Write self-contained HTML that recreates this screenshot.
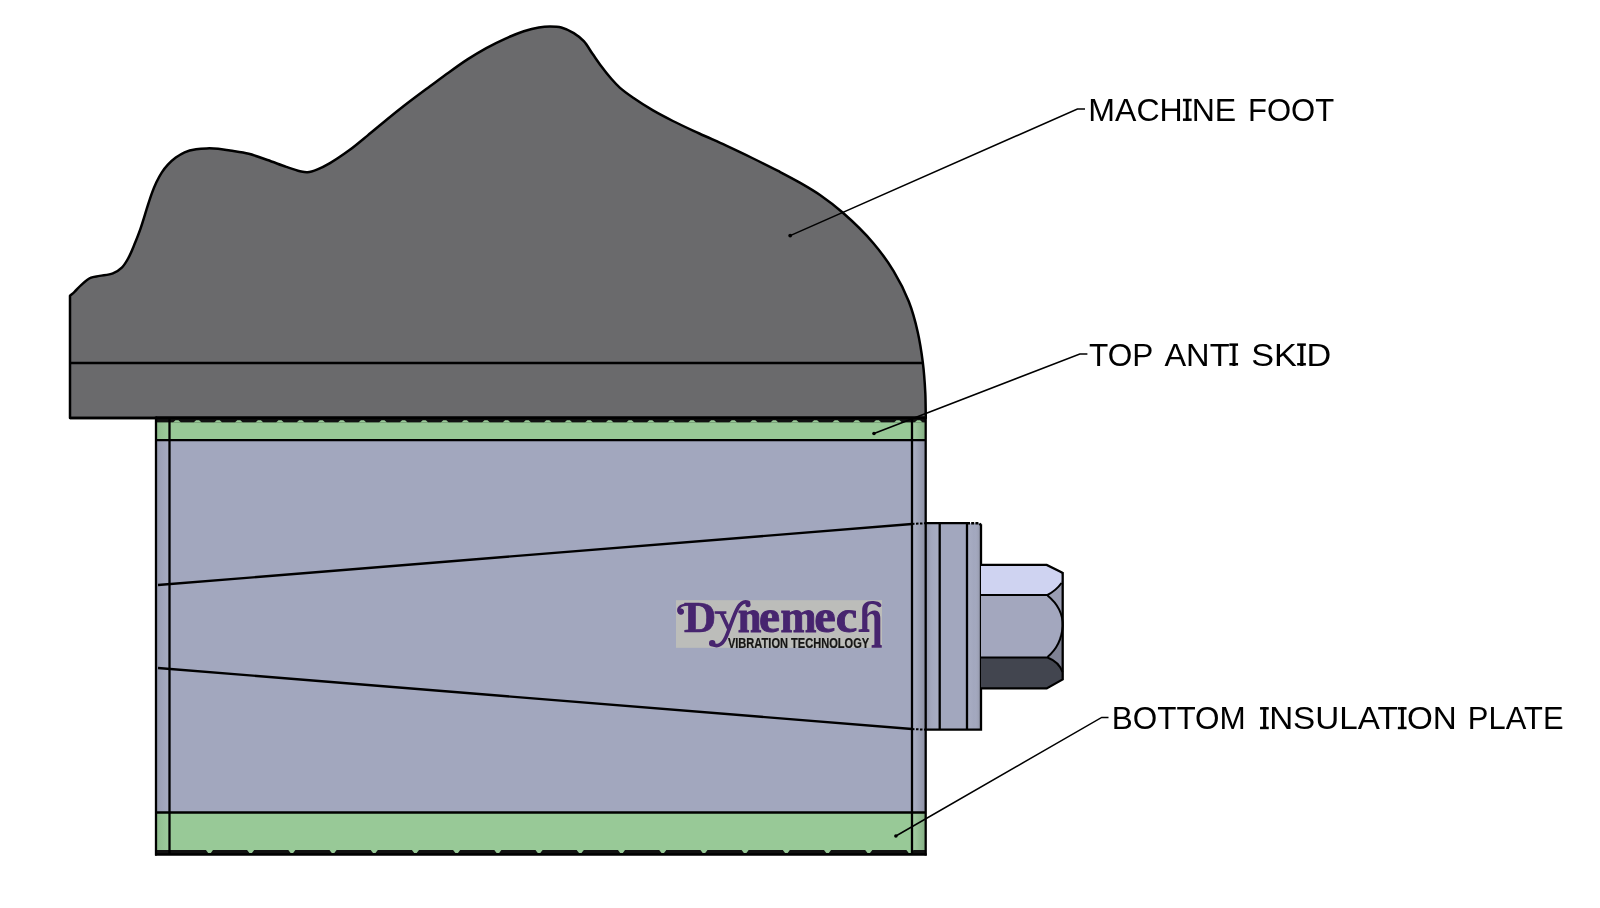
<!DOCTYPE html>
<html><head><meta charset="utf-8"><title>Dynemech pad</title><style>
html,body{margin:0;padding:0;background:#fff;}
body{width:1600px;height:908px;overflow:hidden;position:relative;}
svg{position:absolute;left:0;top:0;display:block;will-change:transform;}
</style></head><body>
<svg width="1600" height="908" viewBox="0 0 1600 908">
<path d="M70.0,295.7 C71.5,294.4 72.9,293.3 74.5,291.8 C76.5,289.9 78.6,287.3 81.1,285.1 C83.9,282.6 87.1,279.4 90.4,277.9 C93.3,276.5 96.2,276.6 99.6,275.9 C103.6,275.1 109.0,274.9 112.9,273.3 C116.4,271.9 119.5,269.9 122.1,267.3 C124.8,264.6 126.8,260.9 128.7,257.4 C130.7,253.7 132.2,249.9 134.0,245.5 C136.1,240.3 138.5,234.4 140.6,228.3 C143.0,221.4 145.5,212.5 147.6,206.1 C149.2,201.1 150.5,197.0 152.0,192.9 C153.4,189.1 154.8,185.7 156.4,182.3 C158.0,179.0 159.7,175.6 161.7,172.6 C163.6,169.7 165.6,167.2 167.9,164.7 C170.3,162.2 173.0,159.7 175.8,157.6 C178.6,155.6 181.4,153.7 184.6,152.3 C188.1,150.8 192.3,149.9 196.1,149.3 C199.7,148.7 203.1,148.5 206.7,148.4 C210.4,148.3 214.3,148.4 218.1,148.8 C222.0,149.2 225.6,149.9 230.0,150.6 C235.6,151.5 242.6,152.3 248.8,153.8 C255.1,155.4 261.3,157.8 267.5,160.0 C273.8,162.2 280.5,164.9 286.3,166.9 C291.2,168.6 296.1,170.4 300.0,171.3 C302.8,171.9 304.8,172.5 307.5,172.3 C310.6,172.1 314.0,170.8 317.5,169.4 C321.5,167.8 325.5,165.7 330.0,163.1 C335.7,159.8 342.6,155.1 348.8,150.6 C355.1,146.0 361.3,140.7 367.5,135.6 C373.8,130.5 380.0,125.1 386.3,120.0 C392.5,114.9 398.3,110.2 405.0,105.0 C412.7,99.0 422.2,92.0 430.0,86.2 C436.7,81.3 442.5,77.0 448.8,72.5 C455.0,68.0 461.2,63.5 467.5,59.4 C473.7,55.4 480.0,51.6 486.3,48.1 C492.5,44.7 498.7,41.6 505.0,38.8 C511.2,36.0 517.8,33.2 523.8,31.2 C529.0,29.6 534.1,28.3 538.8,27.5 C542.8,26.8 546.3,26.5 550.0,26.5 C553.8,26.5 557.5,26.5 561.3,27.5 C565.5,28.6 570.0,30.8 573.8,33.1 C577.5,35.4 580.8,38.0 583.8,41.2 C587.1,44.8 589.6,49.6 592.5,53.8 C595.4,57.9 598.2,62.1 601.3,66.2 C604.5,70.5 608.0,75.0 611.3,78.8 C614.2,82.1 616.7,84.9 620.0,87.9 C623.8,91.3 628.3,94.4 633.2,97.8 C639.1,101.9 646.3,106.5 653.0,110.4 C659.6,114.2 665.8,117.4 672.9,121.0 C681.0,125.1 690.5,129.4 699.3,133.5 C708.1,137.6 716.9,141.3 725.7,145.4 C734.5,149.5 743.4,153.7 752.2,158.0 C761.0,162.3 770.5,167.0 778.6,171.2 C785.7,174.9 791.7,178.0 798.4,181.8 C805.5,185.9 812.8,190.0 820.0,195.0 C827.7,200.3 834.9,205.8 842.9,212.8 C852.6,221.3 864.6,232.9 873.4,243.2 C881.2,252.4 887.7,261.3 893.6,271.1 C899.5,280.8 904.7,291.2 908.8,301.5 C912.7,311.5 915.4,321.7 917.7,331.9 C920.0,342.0 921.5,352.1 922.8,362.3 C924.1,372.4 924.8,383.0 925.3,392.7 C925.7,401.5 925.6,409.6 925.8,418.0 L70,418 Z" fill="#6a6a6c" stroke="#000" stroke-width="2.5" stroke-linejoin="round"/>
<line x1="70" y1="363" x2="923" y2="363" stroke="#000" stroke-width="2.4"/>
<rect x="156.0" y="418" width="769.7" height="22.2" fill="#98c997"/>
<rect x="156.0" y="440.2" width="769.7" height="372.3" fill="#a2a7be"/>
<rect x="156.0" y="812.5" width="769.7" height="42" fill="#98c997"/>
<defs><linearGradient id="colR" x1="0" x2="1"><stop offset="0" stop-color="#fff" stop-opacity="0.12"/><stop offset="1" stop-color="#000" stop-opacity="0.14"/></linearGradient><linearGradient id="colL" x1="0" x2="1"><stop offset="0" stop-color="#000" stop-opacity="0.06"/><stop offset="1" stop-color="#fff" stop-opacity="0.05"/></linearGradient></defs>
<rect x="156.0" y="418" width="13.5" height="436.5" fill="url(#colL)"/>
<rect x="912.0" y="418" width="13.7" height="436.5" fill="url(#colR)"/>
<rect x="156.0" y="416.3" width="769.7" height="6.1" fill="#111"/><path d="M173.0,422.6 L175.5,420.2 L178.5,420.2 L181.0,422.6 Z" fill="#98c997"/><path d="M193.6,422.6 L196.1,420.2 L199.1,420.2 L201.6,422.6 Z" fill="#98c997"/><path d="M214.2,422.6 L216.7,420.2 L219.7,420.2 L222.2,422.6 Z" fill="#98c997"/><path d="M234.8,422.6 L237.3,420.2 L240.3,420.2 L242.8,422.6 Z" fill="#98c997"/><path d="M255.4,422.6 L257.9,420.2 L260.9,420.2 L263.4,422.6 Z" fill="#98c997"/><path d="M276.0,422.6 L278.5,420.2 L281.5,420.2 L284.0,422.6 Z" fill="#98c997"/><path d="M296.6,422.6 L299.1,420.2 L302.1,420.2 L304.6,422.6 Z" fill="#98c997"/><path d="M317.2,422.6 L319.7,420.2 L322.7,420.2 L325.2,422.6 Z" fill="#98c997"/><path d="M337.8,422.6 L340.3,420.2 L343.3,420.2 L345.8,422.6 Z" fill="#98c997"/><path d="M358.4,422.6 L360.9,420.2 L363.9,420.2 L366.4,422.6 Z" fill="#98c997"/><path d="M379.0,422.6 L381.5,420.2 L384.5,420.2 L387.0,422.6 Z" fill="#98c997"/><path d="M399.6,422.6 L402.1,420.2 L405.1,420.2 L407.6,422.6 Z" fill="#98c997"/><path d="M420.2,422.6 L422.7,420.2 L425.7,420.2 L428.2,422.6 Z" fill="#98c997"/><path d="M440.8,422.6 L443.3,420.2 L446.3,420.2 L448.8,422.6 Z" fill="#98c997"/><path d="M461.4,422.6 L463.9,420.2 L466.9,420.2 L469.4,422.6 Z" fill="#98c997"/><path d="M482.0,422.6 L484.5,420.2 L487.5,420.2 L490.0,422.6 Z" fill="#98c997"/><path d="M502.6,422.6 L505.1,420.2 L508.1,420.2 L510.6,422.6 Z" fill="#98c997"/><path d="M523.2,422.6 L525.7,420.2 L528.7,420.2 L531.2,422.6 Z" fill="#98c997"/><path d="M543.8,422.6 L546.3,420.2 L549.3,420.2 L551.8,422.6 Z" fill="#98c997"/><path d="M564.4,422.6 L566.9,420.2 L569.9,420.2 L572.4,422.6 Z" fill="#98c997"/><path d="M585.0,422.6 L587.5,420.2 L590.5,420.2 L593.0,422.6 Z" fill="#98c997"/><path d="M605.6,422.6 L608.1,420.2 L611.1,420.2 L613.6,422.6 Z" fill="#98c997"/><path d="M626.2,422.6 L628.7,420.2 L631.7,420.2 L634.2,422.6 Z" fill="#98c997"/><path d="M646.8,422.6 L649.3,420.2 L652.3,420.2 L654.8,422.6 Z" fill="#98c997"/><path d="M667.4,422.6 L669.9,420.2 L672.9,420.2 L675.4,422.6 Z" fill="#98c997"/><path d="M688.0,422.6 L690.5,420.2 L693.5,420.2 L696.0,422.6 Z" fill="#98c997"/><path d="M708.6,422.6 L711.1,420.2 L714.1,420.2 L716.6,422.6 Z" fill="#98c997"/><path d="M729.2,422.6 L731.7,420.2 L734.7,420.2 L737.2,422.6 Z" fill="#98c997"/><path d="M749.8,422.6 L752.3,420.2 L755.3,420.2 L757.8,422.6 Z" fill="#98c997"/><path d="M770.4,422.6 L772.9,420.2 L775.9,420.2 L778.4,422.6 Z" fill="#98c997"/><path d="M791.0,422.6 L793.5,420.2 L796.5,420.2 L799.0,422.6 Z" fill="#98c997"/><path d="M811.6,422.6 L814.1,420.2 L817.1,420.2 L819.6,422.6 Z" fill="#98c997"/><path d="M832.2,422.6 L834.7,420.2 L837.7,420.2 L840.2,422.6 Z" fill="#98c997"/><path d="M852.8,422.6 L855.3,420.2 L858.3,420.2 L860.8,422.6 Z" fill="#98c997"/><path d="M873.4,422.6 L875.9,420.2 L878.9,420.2 L881.4,422.6 Z" fill="#98c997"/><path d="M894.0,422.6 L896.5,420.2 L899.5,420.2 L902.0,422.6 Z" fill="#98c997"/><path d="M914.6,422.6 L917.1,420.2 L920.1,420.2 L922.6,422.6 Z" fill="#98c997"/>
<rect x="156.0" y="850.0" width="769.7" height="5.0" fill="#111"/><path d="M205.8,849.8 L208.2,853.0 L210.8,853.0 L213.2,849.8 Z" fill="#98c997"/><path d="M246.9,849.8 L249.4,853.0 L251.9,853.0 L254.4,849.8 Z" fill="#98c997"/><path d="M288.1,849.8 L290.6,853.0 L293.1,853.0 L295.6,849.8 Z" fill="#98c997"/><path d="M329.3,849.8 L331.8,853.0 L334.3,853.0 L336.8,849.8 Z" fill="#98c997"/><path d="M370.5,849.8 L373.0,853.0 L375.5,853.0 L378.0,849.8 Z" fill="#98c997"/><path d="M411.7,849.8 L414.2,853.0 L416.7,853.0 L419.2,849.8 Z" fill="#98c997"/><path d="M452.9,849.8 L455.4,853.0 L457.9,853.0 L460.4,849.8 Z" fill="#98c997"/><path d="M494.1,849.8 L496.6,853.0 L499.1,853.0 L501.6,849.8 Z" fill="#98c997"/><path d="M535.3,849.8 L537.8,853.0 L540.3,853.0 L542.8,849.8 Z" fill="#98c997"/><path d="M576.5,849.8 L579.0,853.0 L581.5,853.0 L584.0,849.8 Z" fill="#98c997"/><path d="M617.8,849.8 L620.2,853.0 L622.8,853.0 L625.2,849.8 Z" fill="#98c997"/><path d="M659.0,849.8 L661.5,853.0 L664.0,853.0 L666.5,849.8 Z" fill="#98c997"/><path d="M700.2,849.8 L702.7,853.0 L705.2,853.0 L707.7,849.8 Z" fill="#98c997"/><path d="M741.4,849.8 L743.9,853.0 L746.4,853.0 L748.9,849.8 Z" fill="#98c997"/><path d="M782.6,849.8 L785.1,853.0 L787.6,853.0 L790.1,849.8 Z" fill="#98c997"/><path d="M823.8,849.8 L826.3,853.0 L828.8,853.0 L831.3,849.8 Z" fill="#98c997"/><path d="M865.0,849.8 L867.5,853.0 L870.0,853.0 L872.5,849.8 Z" fill="#98c997"/><path d="M906.2,849.8 L908.7,853.0 L911.2,853.0 L913.7,849.8 Z" fill="#98c997"/>
<line x1="70" y1="418" x2="925.7" y2="418" stroke="#000" stroke-width="2.3"/>
<line x1="156.0" y1="416.5" x2="156.0" y2="855.5" stroke="#000" stroke-width="2.3"/>
<line x1="169.5" y1="418" x2="169.5" y2="854.5" stroke="#000" stroke-width="2.3"/>
<line x1="912.0" y1="418" x2="912.0" y2="854.5" stroke="#000" stroke-width="2.3"/>
<line x1="156.0" y1="440.2" x2="925.7" y2="440.2" stroke="#000" stroke-width="2.3"/>
<line x1="156.0" y1="812.5" x2="925.7" y2="812.5" stroke="#000" stroke-width="2.3"/>
<line x1="155.0" y1="854.5" x2="926.7" y2="854.5" stroke="#000" stroke-width="2.3"/>
<line x1="158" y1="585" x2="912" y2="524" stroke="#000" stroke-width="2.3"/>
<line x1="912" y1="524" x2="925.7" y2="523.2" stroke="#000" stroke-width="2" stroke-dasharray="2.5,1.5"/>
<line x1="912" y1="729" x2="925.7" y2="729.7" stroke="#000" stroke-width="2" stroke-dasharray="2.5,1.5"/>
<line x1="158" y1="668" x2="912" y2="729" stroke="#000" stroke-width="2.3"/>
<rect x="925.7" y="523.2" width="55.3" height="206.5" fill="#a2a7be"/>
<defs><linearGradient id="fl" x1="0" x2="1"><stop offset="0" stop-color="#fff" stop-opacity="0.08"/><stop offset="0.5" stop-color="#fff" stop-opacity="0.0"/><stop offset="1" stop-color="#000" stop-opacity="0.14"/></linearGradient></defs>
<defs><linearGradient id="fl1" x1="0" x2="1"><stop offset="0" stop-color="#000" stop-opacity="0.10"/><stop offset="0.6" stop-color="#fff" stop-opacity="0.03"/><stop offset="1" stop-color="#fff" stop-opacity="0.08"/></linearGradient></defs>
<rect x="925.7" y="523.2" width="14.0" height="206.5" fill="url(#fl1)"/>
<rect x="967" y="523.2" width="14" height="206.5" fill="url(#fl)"/>
<path d="M925.7,523.2 L967,523.2 M981,524.2 L981,729.7 L925.7,729.7" fill="none" stroke="#000" stroke-width="2.3"/>
<path d="M967,523.2 L979,523.2 L981,525" fill="none" stroke="#000" stroke-width="2.4" stroke-dasharray="3,1.2"/>
<line x1="925.7" y1="417" x2="925.7" y2="855.5" stroke="#000" stroke-width="2.3"/>
<line x1="939.7" y1="523.2" x2="939.7" y2="729.7" stroke="#000" stroke-width="2.3"/>
<line x1="967" y1="523.2" x2="967" y2="729.7" stroke="#000" stroke-width="2.3"/>
<path d="M981,564.9 L1046.7,564.9 L1059.5,571 L1062.7,573 L1062.7,679.4 L1046.7,688.4 L981,688.4 Z" fill="#a3a7be"/>
<path d="M981,564.9 L1046.7,564.9 L1059.5,571 C1062.5,574 1063,578 1061,583 C1058,588 1053,592 1047.5,595 L981,595 Z" fill="#cfd3f1"/>
<path d="M1047.5,595 C1053,592 1058,588 1062,581 L1062.7,622 C1060,610 1055,602 1047.5,595 Z" fill="#9a9db2"/>
<path d="M1047.5,657 C1055,650 1060,640 1062.7,622 L1062.7,670 C1059,664 1054,660 1047.5,657 Z" fill="#7f8294"/>
<path d="M981,657.5 L1047.5,657.5 C1054,660 1060,665 1062.5,672 L1062.7,679.4 L1046.7,688.4 L981,688.4 Z" fill="#42454f"/>
<path d="M981,564.9 L1046.7,564.9 L1060,571.5 L1062.7,573 L1062.7,679.4 L1046.7,688.4 L981,688.4" fill="none" stroke="#000" stroke-width="2.3"/>
<path d="M981,595 L1047.5,595 C1053,592 1058,588 1061.5,583" fill="none" stroke="#000" stroke-width="2"/>
<path d="M1047.5,595.5 C1058,604 1063,614 1062.7,626 C1062,638 1057,649 1047.5,657" fill="none" stroke="#000" stroke-width="2"/>
<path d="M981,657.5 L1047.5,657.5 C1054,660 1060,665 1062.5,672" fill="none" stroke="#000" stroke-width="2"/>
<rect x="676" y="600.2" width="206" height="47.6" fill="#bcbdba"/>
<text x="684" y="632.3" font-family="Liberation Serif" font-weight="bold" font-size="44.5" fill="#47256f" stroke="#47256f" stroke-width="0.7">D</text>
<path d="M689,603.2 C684,603 679,604.5 677.5,608 C676.3,611 678,614.5 681,614.6 C683.6,614.7 684.6,612 683.2,610 C682.3,608.8 680.8,608.6 680,609.2 C681,606.5 684.5,605.6 689,605.8 Z" fill="#47256f"/>
<circle cx="680.8" cy="611.6" r="3" fill="#47256f"/>
<path d="M714.6,611.3 L726.4,611.3 L726.4,613.8 L723.8,614 L730.6,628.5 L728.6,633 L719.8,614 L714.6,613.8 Z" fill="#47256f"/>
<path d="M711.5,643.5 C716,647.5 722,646 726,637 C730,628 734,614 738,607.5 C741,602.5 745,601 748.5,602.5" fill="none" stroke="#47256f" stroke-width="3.6" stroke-linecap="round"/>
<circle cx="712.2" cy="643.2" r="3.2" fill="#47256f"/>
<circle cx="748" cy="604.6" r="2.6" fill="#47256f"/>
<text x="0" y="0" transform="translate(737.64,632.4) scale(0.906,1)" font-family="Liberation Serif" font-weight="bold" font-size="47.0" fill="#47256f" stroke="#47256f" stroke-width="0.9">n</text>
<text x="0" y="0" transform="translate(758.97,632.4) scale(1.008,1)" font-family="Liberation Serif" font-weight="bold" font-size="47.0" fill="#47256f" stroke="#47256f" stroke-width="0.9">e</text>
<text x="0" y="0" transform="translate(780.43,632.4) scale(0.920,1)" font-family="Liberation Serif" font-weight="bold" font-size="47.0" fill="#47256f" stroke="#47256f" stroke-width="0.9">m</text>
<text x="0" y="0" transform="translate(814.32,632.4) scale(1.030,1)" font-family="Liberation Serif" font-weight="bold" font-size="47.0" fill="#47256f" stroke="#47256f" stroke-width="0.9">e</text>
<text x="0" y="0" transform="translate(835.72,632.4) scale(1.030,1)" font-family="Liberation Serif" font-weight="bold" font-size="47.0" fill="#47256f" stroke="#47256f" stroke-width="0.9">c</text>
<path d="M862.4,632 L858.6,632 L858.6,629.6 L862.2,629 L862.2,610 C862.2,604 866,601 872,601 C876.5,601 880.2,602 881.2,604.5 C882,607 879.5,608 877.8,606.5 C876.5,605 874.5,603.8 871.5,604 C868.5,604.3 867.4,606.5 867.4,611 L867.4,614.5 C869.5,611.5 872,610.5 875,610.6 C878.6,610.8 880.3,613.5 880.3,618 L880.3,644.8 L881.8,645.2 L881.8,647.8 L871.6,647.8 L871.6,645.2 L874.4,644.8 L874.4,618.5 C874.4,615.5 873.5,614 871.6,614 C869.8,614 868.2,615.5 867.4,617 L867.4,629 L869.4,629.6 L869.4,632 Z" fill="#47256f"/>
<text x="0" y="0" transform="translate(727.9,647.6) scale(0.72,1)" font-family="Liberation Sans" font-weight="bold" font-size="15.4" fill="#161616" stroke="#161616" stroke-width="0.25">VIBRATION TECHNOLOGY</text>
<polyline points="790.2,235.6 1077.4,109 1085,109" stroke="#000" stroke-width="1.5" fill="none"/>
<circle cx="790.2" cy="235.6" r="1.9" fill="#000"/>
<polyline points="874,433.5 1079.8,354 1087.4,354" stroke="#000" stroke-width="1.5" fill="none"/>
<circle cx="874" cy="433.5" r="1.8" fill="#000"/>
<polyline points="895.9,836 1101.7,717.4 1108.5,717.4" stroke="#000" stroke-width="1.5" fill="none"/>
<circle cx="895.9" cy="836" r="1.8" fill="#000"/>
<text id="w1" x="0" y="0" transform="translate(1088.26,121.00) scale(0.9969,1)" font-family="Liberation Sans" font-size="32.2" fill="#000">MACHINE</text>
<text id="w2" x="0" y="0" transform="translate(1247.91,121.00) scale(0.9645,1)" font-family="Liberation Sans" font-size="32.2" fill="#000">FOOT</text>
<text id="w3" x="0" y="0" transform="translate(1089.02,365.60) scale(0.9802,1)" font-family="Liberation Sans" font-size="32.2" fill="#000">TOP</text>
<text id="w4" x="0" y="0" transform="translate(1164.40,365.60) scale(1.0113,1)" font-family="Liberation Sans" font-size="32.2" fill="#000">ANTI</text>
<text id="w5" x="0" y="0" transform="translate(1251.27,365.60) scale(1.0639,1)" font-family="Liberation Sans" font-size="32.2" fill="#000">SKID</text>
<text id="w6" x="0" y="0" transform="translate(1111.77,729.30) scale(0.9777,1)" font-family="Liberation Sans" font-size="32.2" fill="#000">BOTTOM</text>
<text id="w7" x="0" y="0" transform="translate(1259.90,729.30) scale(1.0319,1)" font-family="Liberation Sans" font-size="32.2" fill="#000">INSULATION</text>
<text id="w8" x="0" y="0" transform="translate(1467.87,729.30) scale(0.9605,1)" font-family="Liberation Sans" font-size="32.2" fill="#000">PLATE</text>
<rect x="1182.95" y="98.80" width="8.7" height="2.5" fill="#000"/><rect x="1182.95" y="118.40" width="8.7" height="2.5" fill="#000"/>
<rect x="1229.35" y="343.40" width="8.7" height="2.5" fill="#000"/><rect x="1229.35" y="363.00" width="8.7" height="2.5" fill="#000"/>
<rect x="1297.15" y="343.40" width="8.7" height="2.5" fill="#000"/><rect x="1297.15" y="363.00" width="8.7" height="2.5" fill="#000"/>
<rect x="1260.05" y="707.10" width="8.7" height="2.5" fill="#000"/><rect x="1260.05" y="726.70" width="8.7" height="2.5" fill="#000"/>
<rect x="1397.85" y="707.10" width="8.7" height="2.5" fill="#000"/><rect x="1397.85" y="726.70" width="8.7" height="2.5" fill="#000"/>
</svg>
</body></html>
